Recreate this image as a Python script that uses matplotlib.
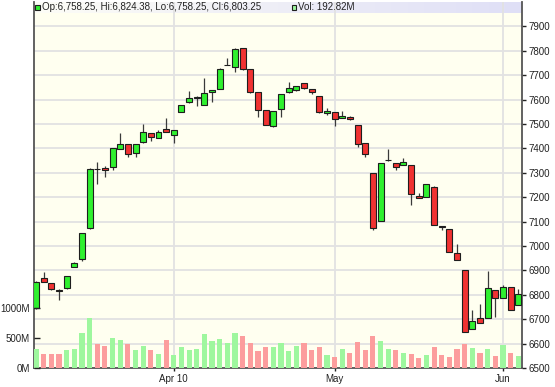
import numpy as np
import matplotlib
matplotlib.use("Agg")
import matplotlib.pyplot as plt
from matplotlib.patches import Rectangle

opens = [6745, 6868, 6847, 6820, 6827, 6915, 6945, 7072, 7316, 7321,
         7322, 7399, 7418, 7380, 7425, 7462, 7444, 7481, 7456, 7550,
         7589, 7605, 7577, 7630, 7645, 7741, 7735, 7810, 7724, 7632,
         7557, 7492, 7561, 7630, 7638, 7667, 7643, 7615, 7544, 7550,
         7525, 7530, 7496, 7423, 7300, 7102, 7351, 7341, 7333, 7330,
         7206, 7200, 7243, 7083, 7068, 6972, 6902, 6659, 6704, 6706,
         6820, 6786, 6831, 6758.25]
highs = [6856, 6892, 6849, 6822, 6879, 6933, 7053, 7318, 7345, 7328,
         7402, 7464, 7419, 7419, 7499, 7463, 7476, 7525, 7477, 7578,
         7635, 7613, 7687, 7640, 7728, 7769, 7810, 7811, 7725, 7633,
         7558, 7554, 7623, 7671, 7657, 7668, 7644, 7616, 7565, 7551,
         7553, 7534, 7497, 7424, 7301, 7340, 7398, 7342, 7362, 7331,
         7216, 7255, 7244, 7084, 7069, 7007, 6903, 6738, 6761, 6899,
         6821, 6840, 6832, 6824.38]
lows = [6742, 6852, 6820, 6779, 6825, 6913, 6940, 7070, 7254, 7284,
        7311, 7397, 7363, 7366, 7424, 7432, 7443, 7467, 7421, 7549,
        7588, 7574, 7576, 7591, 7644, 7740, 7714, 7723, 7629, 7530,
        7494, 7489, 7530, 7629, 7637, 7645, 7622, 7547, 7536, 7492,
        7524, 7518, 7407, 7366, 7066, 7101, 7350, 7311, 7332, 7168,
        7197, 7199, 7085, 7066, 6976, 6942, 6646, 6658, 6685, 6705,
        6710, 6785, 6737, 6758.25]
closes = [6854, 6854, 6822, 6817, 6877, 6932, 7052, 7316, 7314, 7311,
          7400, 7418, 7377, 7418, 7466, 7446, 7466, 7468, 7475, 7577,
          7605, 7612, 7628, 7639, 7727, 7743, 7807, 7724, 7630, 7557,
          7496, 7553, 7622, 7649, 7656, 7646, 7632, 7548, 7552, 7520,
          7531, 7519, 7418, 7376, 7075, 7339, 7353, 7322, 7345, 7213,
          7198, 7254, 7086, 7077, 6977, 6943, 6647, 6694, 6686, 6827,
          6786, 6831, 6738, 6803.25]
volumes_m = [311, 233, 233, 233, 294, 322, 583, 833, 406, 372,
             506, 461, 406, 294, 372, 294, 239, 467, 222, 356,
             294, 322, 572, 450, 478, 417, 589, 528, 417, 283,
             344, 356, 414, 283, 370, 416, 300, 356, 217, 186,
             311, 253, 436, 300, 541, 450, 311, 297, 250, 230,
             170, 217, 356, 217, 186, 320, 406, 339, 250, 322,
             200, 389, 250, 192.82]

price_ticks = [6500, 6600, 6700, 6800, 6900, 7000, 7100, 7200, 7300, 7400,
               7500, 7600, 7700, 7800, 7900]
vol_ticks = [0, 500, 1000]
vol_tick_labels = ["0M", "500M", "1000M"]
date_tick_idx = [18, 39, 61]
date_tick_labels = ["Apr 10", "May", "Jun"]

legend_ohlc = "Op:6,758.25, Hi:6,824.38, Lo:6,758.25, Cl:6,803.25"
legend_vol = "Vol: 192.82M"

plt.rcParams['font.family'] = ['Liberation Sans', 'DejaVu Sans']
FS = 7

W, H = 555, 387
fig = plt.figure(figsize=(W / 100, H / 100), dpi=100)
fig.patch.set_facecolor('white')

L, R, T, B = 34, 522, 2, 368
ax = fig.add_axes([L / W, 1 - B / H, (R - L) / W, (B - T) / H])
ax.set_facecolor('#fffff0')

n = len(opens)
x = np.arange(n)
o = np.array(opens); c = np.array(closes)
hi = np.array(highs); lo = np.array(lows)
up = c >= o

GREEN = '#2ff02f'
RED = '#f03232'
XL = (-0.26, 63.48)

# volume axis (created first so price axis settings are applied last)
axv = ax.twinx()
axv.patch.set_visible(False)
vcols = np.where(up, '#9ef79e', '#fc9d9d')
axv.bar(x, volumes_m, width=0.68, color=vcols, zorder=1)
axv.set_ylim(0, 6133)
axv.set_xlim(*XL)
for s in axv.spines.values():
    s.set_visible(False)

# wicks & bodies on price axis
ax.vlines(x, lo, hi, color='#3a3a3a', lw=0.9, zorder=2)
body_h = np.where(np.abs(c - o) < 0.5, 0.5, c - o)
ax.bar(x, body_h, bottom=o, width=0.78,
       color=np.where(up, GREEN, RED), edgecolor='#1e1e1e', linewidth=0.8, zorder=3)

# legend strip (gradient)
strip_h = 11.5 / (B - T)
grad = np.zeros((1, 256, 3))
c0 = np.array([0xfd, 0xfd, 0xf6]) / 255
c1 = np.array([0xdf, 0xdf, 0xf7]) / 255
for i in range(256):
    grad[0, i] = c0 + (c1 - c0) * i / 255
ax.imshow(grad, extent=[0, 1, 1 - strip_h, 1], transform=ax.transAxes,
          aspect='auto', zorder=0.3, interpolation='bilinear')

ax.set_xlim(*XL)
ax.set_ylim(6500, 8000)
ax.set_xticks(date_tick_idx)
ax.set_xticklabels(date_tick_labels)
ax.set_axisbelow(True)
ax.grid(True, color='#e2e2e2', lw=1.3)
ax.tick_params(axis='x', direction='out', length=2, width=1, pad=2,
               labelsize=FS, colors='#222222')
for s in ['left', 'right', 'bottom']:
    ax.spines[s].set_color('#555555')
    ax.spines[s].set_linewidth(1.3)
ax.spines['top'].set_visible(False)

# price ticks on the right
ax.set_yticks(price_ticks)
ax.set_yticklabels([str(t) for t in price_ticks])
ax.tick_params(axis='y', which='both', left=False, labelleft=False,
               right=True, labelright=True, direction='out', length=3,
               width=1, pad=1.5, labelsize=FS, colors='#222222')

# volume ticks on the left
axv.set_yticks(vol_ticks)
axv.set_yticklabels(vol_tick_labels)
axv.tick_params(axis='y', which='both', left=True, labelleft=True,
                right=False, labelright=False, direction='in', length=4,
                width=1, pad=3, labelsize=FS, colors='#222222')

# legend
def fx(px):
    return px / W
def fy(py):
    return 1 - py / H

fig.add_artist(Rectangle((fx(35), fy(10)), 4.5 / W, 4.5 / H, transform=fig.transFigure,
                         facecolor=GREEN, edgecolor='#1e1e1e', lw=0.8))
fig.text(fx(41.5), fy(7.5), legend_ohlc, fontsize=FS, color='#222222', va='center', ha='left')
fig.add_artist(Rectangle((fx(291.5), fy(10)), 4.5 / W, 4.5 / H, transform=fig.transFigure,
                         facecolor='#9ef79e', edgecolor='#1e1e1e', lw=0.8))
fig.text(fx(297.5), fy(7.5), legend_vol, fontsize=FS, color='#222222', va='center', ha='left')

fig.savefig('out.png', dpi=100)
